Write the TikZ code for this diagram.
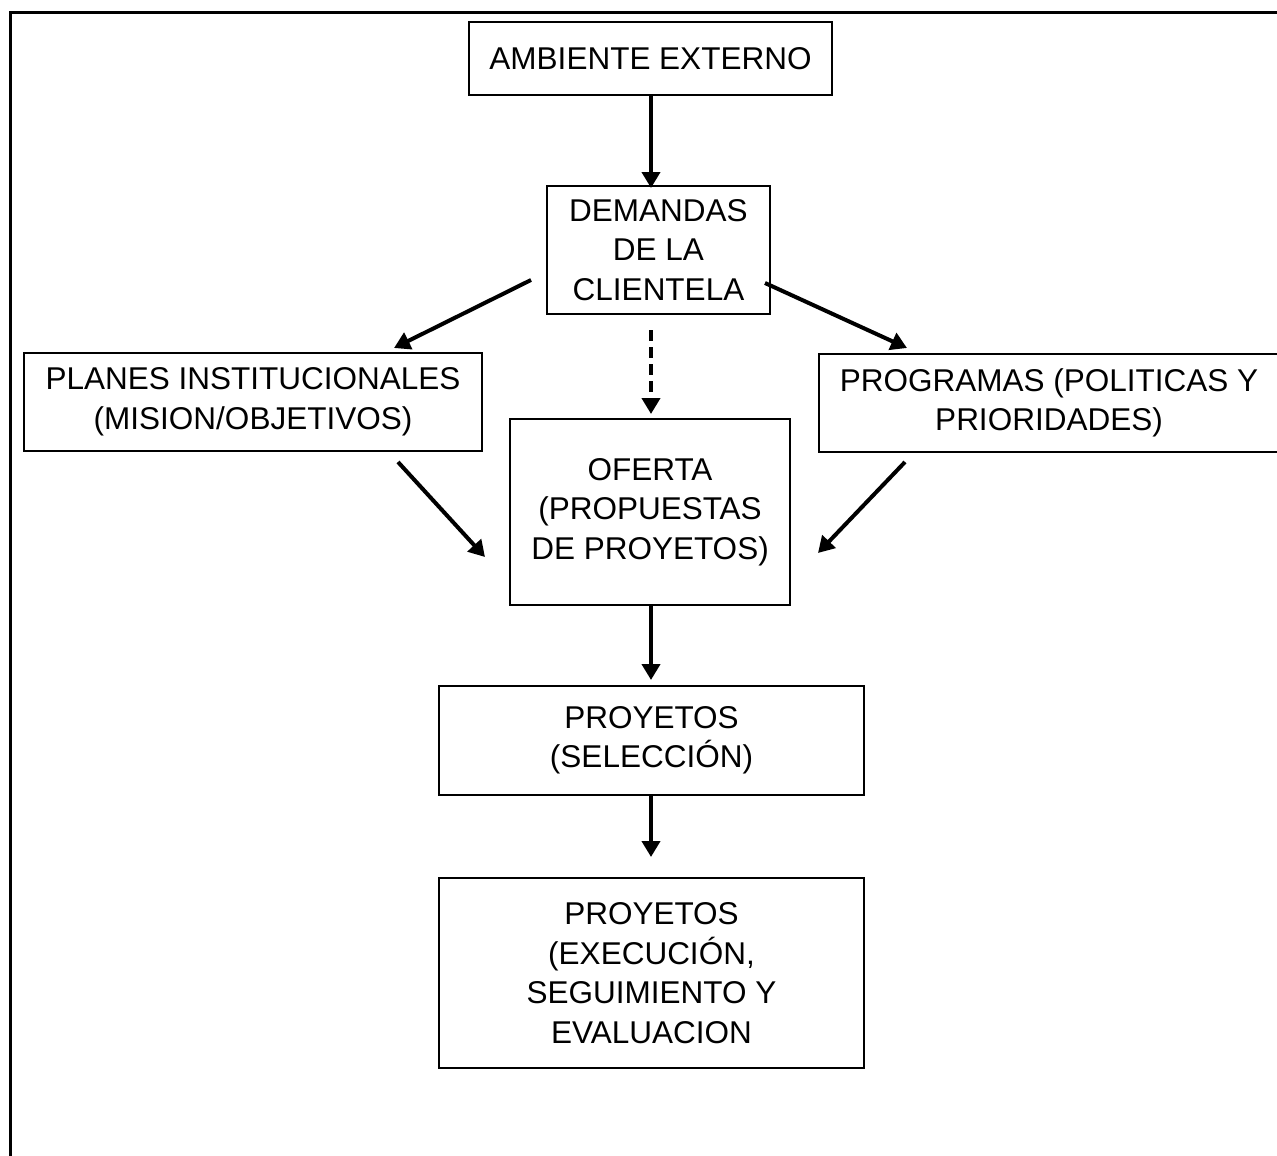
\documentclass[tikz,border=0pt]{standalone}
\usepackage{fontspec}
\setmainfont{Liberation Sans}
\usetikzlibrary{arrows.meta}
\begin{document}
\begin{tikzpicture}[x=1pt,y=-1pt,
  box/.style={draw,line width=2.8pt,align=center,inner sep=0pt,
    font=\fontsize{31.5}{39.5}\selectfont},
  arr/.style={line width=4pt,-{Triangle[length=16pt,width=18pt]}},
  darr/.style={arr,dash pattern=on 11pt off 6pt}]
\useasboundingbox (0,0) rectangle (1277,1156);
\draw[line width=3pt] (10,1156) -- (10,13) -- (1277,13);
\node[box,minimum width=363pt,minimum height=73pt] (amb) at (650.5,58.5) {AMBIENTE EXTERNO};
\node[box,minimum width=223pt,minimum height=128pt] (dem) at (658.5,250) {DEMANDAS\\DE LA\\CLIENTELA};
\node[box,minimum width=458pt,minimum height=98pt] (pla) at (253,402) {PLANES INSTITUCIONALES\\(MISION/OBJETIVOS)};
\node[box,minimum width=460pt,minimum height=98pt] (pro) at (1049,403) {PROGRAMAS (POLITICAS Y\\PRIORIDADES)};
\node[box,minimum width=280pt,minimum height=186pt] (ofe) at (650,512) {OFERTA\\(PROPUESTAS\\DE PROYETOS)};
\node[box,minimum width=425pt,minimum height=109pt] (sel) at (651.5,740.5) {PROYETOS\\(SELECCIÓN)};
\node[box,minimum width=425pt,minimum height=190pt] (eje) at (651.5,973) {PROYETOS\\(EXECUCIÓN,\\SEGUIMIENTO Y\\EVALUACION};
\coordinate (a1) at (531,280); \coordinate (a1e) at (394,348);
\coordinate (a2) at (765,283); \coordinate (a2e) at (907,348);
\coordinate (a3) at (398,462); \coordinate (a3e) at (485,557);
\coordinate (a4) at (905,462); \coordinate (a4e) at (818,553);
\draw[arr] (amb.south -| 651,0) -- (651,188);
\draw[arr] (a1) -- (a1e);
\draw[arr] (a2) -- (a2e);
\draw[darr] (651,330) -- (651,414);
\draw[arr] (a3) -- (a3e);
\draw[arr] (a4) -- (a4e);
\draw[arr] (ofe.south -| 651,0) -- (651,680);
\draw[arr] (sel.south -| 651,0) -- (651,857);
\end{tikzpicture}
\end{document}
